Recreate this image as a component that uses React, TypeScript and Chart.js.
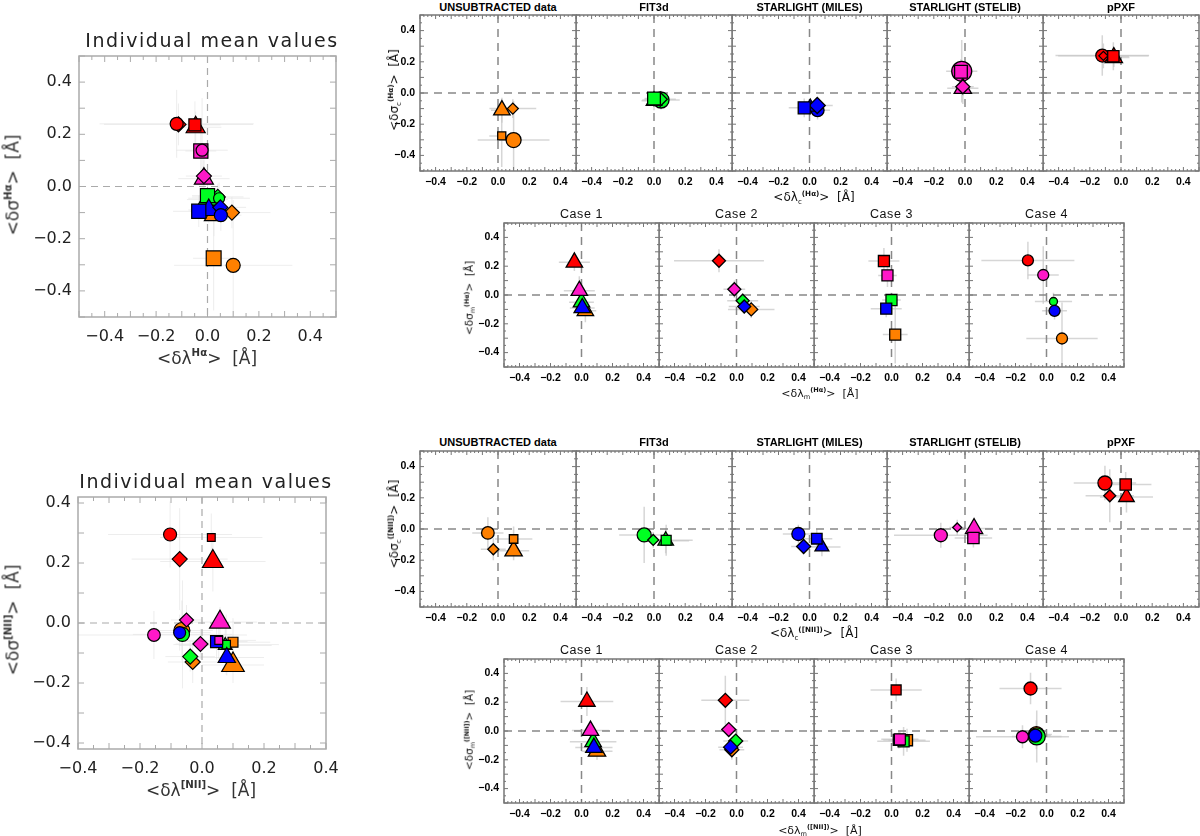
import { useEffect, useRef } from 'react';
import { Chart, registerables } from 'chart.js';

Chart.register(...registerables);

const METHODS = ['UNSUBTRACTED data', 'FIT3d', 'STARLIGHT (MILES)', 'STARLIGHT (STELIB)', 'pPXF'];
const CASES = ['Case 1', 'Case 2', 'Case 3', 'Case 4'];
const TICKS = [-0.4, -0.2, 0, 0.2, 0.4];

// rows: UNSUBTRACTED, FIT3d, MILES, STELIB, pPXF — columns: Case 1..4
const HA_DLAMBDA = [
  [0.025, 0.095, 0.024, 0.1],
  [0.0, 0.04, 0.0, 0.045],
  [0.005, 0.05, -0.034, 0.052],
  [-0.014, -0.014, -0.026, -0.021],
  [-0.046, -0.113, -0.049, -0.12],
];
const HA_DSIGMA = [
  [-0.11, -0.1, -0.275, -0.302],
  [-0.05, -0.04, -0.035, -0.045],
  [-0.09, -0.08, -0.095, -0.11],
  [0.03, 0.04, 0.136, 0.139],
  [0.227, 0.238, 0.236, 0.24],
];
const HA_DLAMBDA_ERR = [
  [0.07, 0.15, 0.08, 0.23],
  [0.08, 0.1, 0.06, 0.12],
  [0.08, 0.1, 0.1, 0.08],
  [0.1, 0.07, 0.06, 0.1],
  [0.1, 0.29, 0.1, 0.3],
];
const HA_DSIGMA_ERR = [
  [0.08, 0.06, 0.2, 0.25],
  [0.06, 0.05, 0.05, 0.06],
  [0.05, 0.05, 0.06, 0.06],
  [0.1, 0.06, 0.08, 0.2],
  [0.06, 0.08, 0.09, 0.13],
];

const NII_DLAMBDA = [
  [0.1, -0.03, 0.1, -0.065],
  [0.075, -0.005, 0.078, -0.063],
  [0.08, -0.038, 0.047, -0.072],
  [0.058, -0.05, 0.054, -0.155],
  [0.035, -0.072, 0.03, -0.103],
];
const NII_DSIGMA = [
  [-0.14, -0.13, -0.064, -0.025],
  [-0.075, -0.07, -0.072, -0.038],
  [-0.115, -0.112, -0.062, -0.032],
  [0.003, 0.01, -0.058, -0.04],
  [0.205, 0.213, 0.285, 0.295],
];
const NII_DLAMBDA_ERR = [
  [0.1, 0.08, 0.12, 0.1],
  [0.15, 0.08, 0.17, 0.16],
  [0.12, 0.08, 0.1, 0.1],
  [0.12, 0.05, 0.12, 0.3],
  [0.17, 0.155, 0.165, 0.2],
];
const NII_DSIGMA_ERR = [
  [0.06, 0.07, 0.08, 0.1],
  [0.08, 0.05, 0.1, 0.18],
  [0.06, 0.05, 0.06, 0.06],
  [0.05, 0.05, 0.06, 0.08],
  [0.1, 0.17, 0.08, 0.11],
];

// marker radii (px) per panel kind
const HA_R_LEFT = [
  [11, 7.5, 10.5, 7],
  [11, 7.5, 10, 5.5],
  [11, 7.5, 10, 6.5],
  [11, 7.5, 10, 6],
  [11, 7.5, 8.5, 6.5],
];
const HA_R_METHOD = [
  [9.5, 5.5, 5.7, 7.5],
  [9, 7, 9, 8],
  [8, 8, 8.5, 6.5],
  [10, 7, 9, 10],
  [10, 4.5, 8, 6.5],
];
const HA_R_CASE = [
  [9.5, 6.5, 7.8, 5.5],
  [9.5, 6.5, 7.8, 4],
  [9.5, 6.5, 7.8, 5.5],
  [9.5, 6.5, 7.8, 5.5],
  [9.5, 6.5, 7.8, 5.5],
];
const NII_R_LEFT = [
  [13, 7.5, 7, 8],
  [8, 7.5, 6, 7],
  [10, 7.5, 8.5, 6],
  [12, 7, 5.5, 6.3],
  [12, 7.5, 5.5, 6.5],
];
const NII_R_METHOD = [
  [10, 5.5, 6, 6.3],
  [9, 5.5, 7, 7],
  [8, 7, 7.5, 6.5],
  [10, 4.5, 8, 6.5],
  [9, 6, 8, 7],
];
const NII_R_CASE = [
  [10, 7, 7.8, 8],
  [9.5, 7, 7.8, 8.5],
  [9.5, 7, 7.8, 6.5],
  [9.5, 7, 7.8, 6],
  [9.5, 7, 7, 6.5],
];

const COLORS = ['#ff8000', '#00ff22', '#0000ff', '#ff18c8', '#ff0000'];
const SHAPES = ['triangle', 'rectRot', 'rect', 'circle'];
// drawing order of the four cases inside a method panel (circle first, square last)
const METHOD_DRAW = [3, 0, 1, 2];
// colour index used in the individual [NII] panel (diamonds of FIT3d / MILES appear swapped there)
const NII_LEFT_COLOR = [
  [0, 0, 0, 0],
  [1, 3, 1, 1],
  [2, 1, 2, 2],
  [3, 3, 3, 3],
  [4, 4, 4, 4],
];

type Line = { x: number[][]; y: number[][]; ex: number[][]; ey: number[][] };
const HA: Line = { x: HA_DLAMBDA, y: HA_DSIGMA, ex: HA_DLAMBDA_ERR, ey: HA_DSIGMA_ERR };
const NII: Line = { x: NII_DLAMBDA, y: NII_DSIGMA, ex: NII_DLAMBDA_ERR, ey: NII_DSIGMA_ERR };

const fmtTick = (v: number) => (v < -1e-9 ? '\u2212' : '') + Math.abs(v).toFixed(1);

function mkSet(L: Line, m: number, c: number, r: number, bw: number, col = m) {
  return {
    data: [{ x: L.x[m][c], y: L.y[m][c], ex: L.ex[m][c], ey: L.ey[m][c] }],
    pointStyle: SHAPES[c],
    pointRadius: r,
    backgroundColor: COLORS[col],
    borderColor: '#000',
    borderWidth: bw,
    showLine: false,
  };
}

const idlPlugin = {
  id: 'idl',
  beforeDatasetsDraw(chart: any, _a: any, o: any) {
    const { ctx, chartArea: a, scales } = chart;
    const x = scales.x, y = scales.y;
    ctx.save();
    ctx.beginPath();
    ctx.rect(a.left, a.top, a.right - a.left, a.bottom - a.top);
    ctx.clip();
    // error bars
    ctx.strokeStyle = o.errColor;
    ctx.lineWidth = o.errWidth;
    chart.data.datasets.forEach((ds: any) => {
      ds.data.forEach((p: any) => {
        const px = x.getPixelForValue(p.x), py = y.getPixelForValue(p.y);
        ctx.beginPath();
        ctx.moveTo(x.getPixelForValue(p.x - p.ex), py);
        ctx.lineTo(x.getPixelForValue(p.x + p.ex), py);
        ctx.moveTo(px, y.getPixelForValue(p.y - p.ey));
        ctx.lineTo(px, y.getPixelForValue(p.y + p.ey));
        ctx.stroke();
      });
    });
    // zero lines
    ctx.strokeStyle = o.dashColor;
    ctx.lineWidth = o.dashWidth;
    ctx.setLineDash(o.dash);
    const x0 = x.getPixelForValue(0), y0 = y.getPixelForValue(0);
    ctx.beginPath();
    ctx.moveTo(x0, a.top); ctx.lineTo(x0, a.bottom);
    ctx.moveTo(a.left, y0); ctx.lineTo(a.right, y0);
    ctx.stroke();
    ctx.restore();
  },
  afterDatasetsDraw(chart: any, _a: any, o: any) {
    const { ctx, chartArea: a, scales } = chart;
    const x = scales.x, y = scales.y;
    ctx.save();
    ctx.strokeStyle = o.frameColor;
    ctx.lineWidth = o.frameWidth;
    ctx.strokeRect(a.left, a.top, a.right - a.left, a.bottom - a.top);
    ctx.lineWidth = 1;
    ctx.beginPath();
    const marks = (sc: any, minor: number, major: number, horiz: boolean) => {
      const i0 = Math.ceil(sc.min / minor - 1e-6), i1 = Math.floor(sc.max / minor + 1e-6);
      for (let i = i0; i <= i1; i++) {
        const v = i * minor;
        const q = v / major;
        const len = Math.abs(q - Math.round(q)) < 1e-6 ? o.majLen : o.minLen;
        const p = sc.getPixelForValue(v);
        if (horiz) {
          ctx.moveTo(p, a.bottom); ctx.lineTo(p, a.bottom - len);
          ctx.moveTo(p, a.top); ctx.lineTo(p, a.top + len);
        } else {
          ctx.moveTo(a.left, p); ctx.lineTo(a.left + len, p);
          ctx.moveTo(a.right, p); ctx.lineTo(a.right - len, p);
        }
      }
    };
    marks(x, o.xMinor, o.major, true);
    marks(y, o.yMinor, o.major, false);
    ctx.stroke();
    ctx.restore();
  },
};

type PanelProps = {
  box: [number, number, number, number];
  pad: [number, number, number, number];
  xr: [number, number];
  yr: [number, number];
  sets: any[];
  yLabels: boolean;
  big: boolean;
};

function Panel({ box, pad, xr, yr, sets, yLabels, big }: PanelProps) {
  const ref = useRef<HTMLCanvasElement>(null);
  const [l, t, w, h] = box;
  const [pl, pt, pr, pb] = pad;
  const W = w + pl + pr, H = h + pt + pb;
  useEffect(() => {
    if (!ref.current) return;
    const font: any = big
      ? { family: 'DejaVu Sans', size: 16 }
      : { family: 'Liberation Sans', size: 10.5, weight: 'bold' };
    const color = big ? '#222' : '#000';
    const chart = new Chart(ref.current, {
      type: 'scatter',
      data: { datasets: [...sets].reverse() },
      plugins: [idlPlugin as any],
      options: {
        animation: false,
        responsive: false,
        maintainAspectRatio: false,
        events: [],
        layout: { autoPadding: false, padding: { top: pt, right: pr, left: 0, bottom: 0 } },
        plugins: {
          legend: { display: false },
          tooltip: { enabled: false },
          idl: big
            ? {
                errColor: 'rgba(225,225,225,0.6)', errWidth: 1,
                dashColor: '#aaa', dashWidth: 1.2, dash: [7, 5],
                frameColor: '#aaa', frameWidth: 1.5,
                xMinor: 0.05, yMinor: 0.1, major: 0.1, majLen: 6, minLen: 4,
              }
            : {
                errColor: 'rgba(200,200,200,0.75)', errWidth: 1.5,
                dashColor: '#888', dashWidth: 1.5, dash: [8, 6],
                frameColor: '#777', frameWidth: 1.5,
                xMinor: 0.025, yMinor: 0.05, major: 0.1, majLen: 4, minLen: 2,
              },
        } as any,
        scales: {
          x: {
            type: 'linear', min: xr[0], max: xr[1],
            grid: { display: false, drawTicks: false },
            border: { display: false },
            afterBuildTicks: (s: any) => { s.ticks = TICKS.map((v) => ({ value: v })); },
            afterFit: (s: any) => { s.height = pb; s.paddingLeft = 0; s.paddingRight = 0; },
            ticks: {
              font, color, padding: big ? 10 : 5, maxRotation: 0, autoSkip: false,
              callback: (v: any) => fmtTick(Number(v)),
            },
          },
          y: {
            type: 'linear', min: yr[0], max: yr[1],
            grid: { display: false, drawTicks: false },
            border: { display: false },
            afterBuildTicks: (s: any) => { s.ticks = TICKS.map((v) => ({ value: v })); },
            afterFit: (s: any) => { s.width = pl; s.paddingTop = 0; s.paddingBottom = 0; },
            ticks: {
              display: yLabels, font, color, padding: big ? 7 : 5, autoSkip: false,
              callback: (v: any) => fmtTick(Number(v)),
            },
          },
        },
      } as any,
    });
    return () => chart.destroy();
  }, []);
  return (
    <canvas
      ref={ref}
      width={W}
      height={H}
      style={{ position: 'absolute', left: l - pl, top: t - pt, width: W, height: H }}
    />
  );
}

function T({ x, y, size, bold, rot, color, spacing, family, children }: any) {
  return (
    <div
      style={{
        position: 'absolute', left: x, top: y, whiteSpace: 'nowrap',
        transform: `translate(-50%, -50%)${rot ? ' rotate(-90deg)' : ''}`,
        fontFamily: family || (bold ? 'Liberation Sans' : 'DejaVu Sans'),
        fontSize: size, fontWeight: bold ? 'bold' : 'normal', lineHeight: 1,
        color: color || '#000', letterSpacing: spacing || 0,
      }}
    >
      {children}
    </div>
  );
}

const supS: any = { fontSize: '0.6em', verticalAlign: '0.7em', lineHeight: 0, fontWeight: 'bold' };
const subS: any = { fontSize: '0.6em', verticalAlign: '-0.35em', lineHeight: 0 };

const Lbl = ({ v, sub, tag }: { v: string; sub?: string; tag: string }) => (
  <>
    {'<'}{v}
    {sub ? <span style={subS}>{sub}</span> : null}
    <span style={supS}>{tag}</span>
    {'>'}&nbsp;&nbsp;[Å]
  </>
);

const methodEdges = [0, 1, 2, 3, 4, 5].map((i) => Math.round(420 + i * 155.8));
const caseEdges = [0, 1, 2, 3, 4].map((i) => 504 + i * 155);

function Group({ L, rm, rc, mTop, cTop, tag, mTitleY, cTitleY, mxY, cxY, myY, cyY }: any) {
  return (
    <>
      {METHODS.map((name, m) => {
        const l = methodEdges[m], w = methodEdges[m + 1] - l;
        return (
          <div key={name}>
            <Panel
              box={[l, mTop, w, 156]}
              pad={[m === 0 ? 45 : 0, 2, 1, 22]}
              xr={[-0.5, 0.5]} yr={[-0.5, 0.5]}
              sets={METHOD_DRAW.map((c) => mkSet(L, m, c, rm[m][c], 1.3))}
              yLabels={m === 0} big={false}
            />
            <T x={l + w / 2} y={mTitleY} size={11} bold>{name}</T>
          </div>
        );
      })}
      {CASES.map((name, c) => {
        const l = caseEdges[c], w = caseEdges[c + 1] - l;
        return (
          <div key={name}>
            <Panel
              box={[l, cTop, w, 144]}
              pad={[c === 0 ? 45 : 0, 2, 1, 22]}
              xr={[-0.5, 0.5]} yr={[-0.5, 0.5]}
              sets={[0, 1, 2, 3, 4].map((m) => mkSet(L, m, c, rc[m][c], 1.3))}
              yLabels={c === 0} big={false}
            />
            <T x={l + w / 2} y={cTitleY} size={12.5} spacing={0.6} color="#111" family="Liberation Sans">{name}</T>
          </div>
        );
      })}
      <T x={814} y={mxY} size={12} color="#111"><Lbl v="δλ" sub="c" tag={`(${tag})`} /></T>
      <T x={394} y={myY} size={12} rot color="#111"><Lbl v="δσ" sub="c" tag={`(${tag})`} /></T>
      <T x={820} y={cxY} size={11} color="#111"><Lbl v="δλ" sub="m" tag={`(${tag})`} /></T>
      <T x={469} y={cyY} size={10.5} rot color="#111"><Lbl v="δσ" sub="m" tag={`(${tag})`} /></T>
    </>
  );
}

export default function App() {
  useEffect(() => {
    document.body.style.margin = '0';
  }, []);
  const leftHA: any[] = [];
  const leftNII: any[] = [];
  for (let m = 0; m < 5; m++) {
    for (let c = 0; c < 4; c++) {
      leftHA.push(mkSet(HA, m, c, HA_R_LEFT[m][c], 1.2));
      leftNII.push(mkSet(NII, m, c, NII_R_LEFT[m][c], 1.2, NII_LEFT_COLOR[m][c]));
    }
  }
  return (
    <div style={{ position: 'absolute', left: 0, top: 0, width: 1200, height: 836, background: '#fff', overflow: 'hidden' }}>
      {/* H-alpha, individual */}
      <Panel box={[79, 56, 257, 261]} pad={[75, 8, 30, 45]} xr={[-0.5, 0.5]} yr={[-0.5, 0.5]} sets={leftHA} yLabels big />
      <T x={212} y={40} size={19} spacing={1.5} color="#222">Individual mean values</T>
      <T x={207} y={358} size={17} color="#333"><Lbl v="δλ" tag="Hα" /></T>
      <T x={13} y={185} size={17} rot color="#333"><Lbl v="δσ" tag="Hα" /></T>

      {/* [NII], individual */}
      <Panel box={[78, 497, 248, 252]} pad={[74, 10, 30, 45]} xr={[-0.4, 0.4]} yr={[-0.42, 0.42]} sets={leftNII} yLabels big />
      <T x={206} y={481} size={19} spacing={1.5} color="#222">Individual mean values</T>
      <T x={201} y={790} size={17} color="#333"><Lbl v="δλ" tag="[NII]" /></T>
      <T x={13} y={620} size={17} rot color="#333"><Lbl v="δσ" tag="[NII]" /></T>

      <Group L={HA} rm={HA_R_METHOD} rc={HA_R_CASE} mTop={15} cTop={223} tag="Hα"
        mTitleY={7} cTitleY={214} mxY={197} cxY={393} myY={90} cyY={298} />
      <Group L={NII} rm={NII_R_METHOD} rc={NII_R_CASE} mTop={451} cTop={659} tag="[NII]"
        mTitleY={442} cTitleY={650} mxY={633} cxY={830} myY={524} cyY={730} />
    </div>
  );
}
